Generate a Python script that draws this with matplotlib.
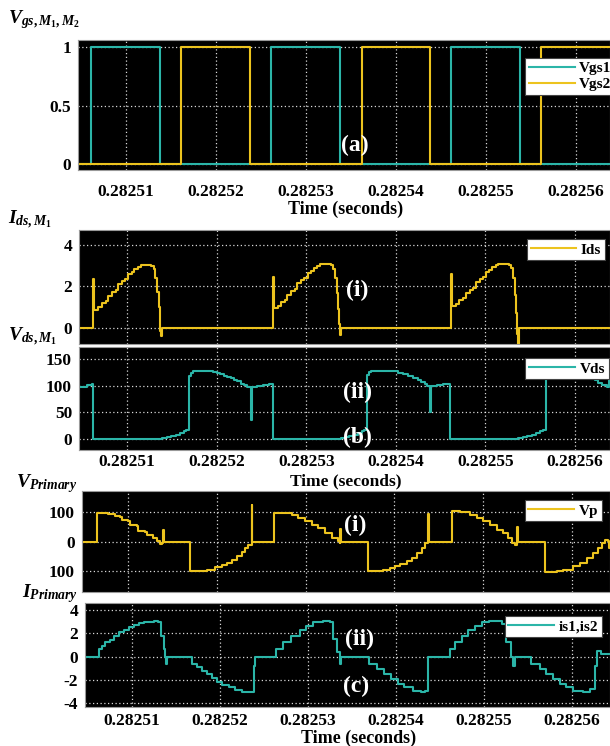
import numpy as np
import matplotlib
matplotlib.use('Agg')
import matplotlib.pyplot as plt

plt.rcParams['font.family'] = 'Liberation Serif'
plt.rcParams['font.weight'] = 'bold'
plt.rcParams['mathtext.fontset'] = 'custom'
plt.rcParams['mathtext.it'] = 'Liberation Serif:italic:bold'
plt.rcParams['mathtext.rm'] = 'Liberation Serif:bold'
plt.rcParams['mathtext.bf'] = 'Liberation Serif:bold'

T0 = 0.2825  # s, times below are microseconds after T0
TEAL = '#2bb5a8'
YELLOW = '#ecc31e'

tick_us = [10, 20, 30, 40, 50, 60]
tick_labels = ['0.28251', '0.28252', '0.28253', '0.28254', '0.28255', '0.28256']

# (a) gate signals
vgs1_t = [4.67, 6.1, 6.1, 13.8, 13.8, 26.1, 26.1, 33.8, 33.8, 46.1, 46.1, 53.8, 53.8, 63.8]
vgs1_v = [0, 0, 1, 1, 0, 0, 1, 1, 0, 0, 1, 1, 0, 0]
vgs2_t = [4.67, 16.1, 16.1, 23.8, 23.8, 36.2, 36.2, 43.8, 43.8, 56.1, 56.1, 63.8]
vgs2_v = [0, 0, 1, 1, 0, 0, 1, 1, 0, 0, 1, 1]

# (b) drain current and drain-source voltage of M1
ids_t = [4.62, 6.22, 6.32, 6.75, 7.15, 7.6, 7.85, 8.3, 8.7, 8.95, 9.4, 9.75, 10.1, 10.5, 10.8,
         11.2, 11.5, 12.7, 12.95, 13.15, 13.35, 13.5, 13.62, 13.72, 13.82, 13.92,
         26.29, 26.39, 26.8, 27.2, 27.65, 27.9, 28.35, 28.75, 29.0, 29.45, 29.8, 30.15, 30.55,
         30.85, 31.25, 31.55, 32.75, 33.0, 33.2, 33.4, 33.55, 33.65, 33.75, 33.88,
         46.21, 46.31, 46.7, 47.1, 47.55, 47.8, 48.25, 48.65, 48.9, 49.35, 49.7, 50.05, 50.45,
         50.75, 51.15, 51.45, 52.65, 52.9, 53.1, 53.3, 53.45, 53.58, 53.62, 53.72, 63.92]
ids_v = [0, 2.36, 0.88, 1.0, 1.2, 1.3, 1.55, 1.75, 1.85, 2.1, 2.25, 2.35, 2.6, 2.7, 2.85,
         2.95, 3.02, 2.98, 2.85, 2.4, 1.75, 1.0, 0.3, -0.15, -0.38, 0,
         2.47, 0.95, 1.05, 1.25, 1.35, 1.6, 1.8, 1.9, 2.15, 2.3, 2.4, 2.65, 2.75,
         2.9, 3.0, 3.07, 3.02, 2.85, 2.4, 1.7, 0.9, 0.2, -0.34, 0,
         2.59, 1.07, 1.15, 1.35, 1.45, 1.7, 1.85, 1.95, 2.2, 2.35, 2.45, 2.7, 2.8,
         2.95, 3.02, 3.08, 3.05, 2.9, 2.4, 1.6, 0.7, -0.3, -0.9, 0, 0]

vds_t = [4.62, 5.5, 6.04, 6.22, 13.89, 14.4, 14.9, 15.4, 15.9, 16.3, 16.6, 16.9, 17.1, 17.3,
         18.2, 19.6, 20.0, 20.4, 20.8, 21.2, 21.55, 21.9, 22.3, 22.7, 23.05, 23.4, 23.85, 23.92,
         24.5, 25.2, 25.8, 26.26,
         33.85, 34.3, 34.8, 35.3, 35.8, 36.2, 36.5, 36.83, 37.0, 37.2, 39.5, 40.24, 40.8, 41.36,
         41.9, 42.48, 42.85, 43.22, 43.5, 43.85, 43.92, 44.6, 45.3, 45.84, 46.1,
         53.69, 54.2, 54.7, 55.2, 55.7, 56.1, 56.45, 56.75, 56.9, 57.1, 59.4, 60.41, 60.8, 61.15,
         61.7, 62.27, 62.6, 63.02, 63.59, 63.8, 63.92]
vds_v = [98, 102, 103, 0, 1, 3, 5, 8, 11, 15, 17, 119, 124, 127,
         128, 126, 124, 121, 119, 116, 114, 110, 108, 104, 102, 98, 36, 98,
         100, 102, 104, 0,
         1, 3, 5, 8, 11, 15, 17, 120, 125, 128, 127, 124, 121, 118,
         114, 110, 107, 104, 100, 51, 99, 101, 103, 104, 0,
         1, 3, 5, 8, 11, 15, 17, 121, 125, 128, 127, 123, 119, 116,
         113, 110, 105, 101, 98, 114, 114]

# (c) primary voltage and current
vp_t = [4.78, 6.44, 7.37, 7.75, 8.5, 9.06, 9.26, 10.0, 10.19, 10.95, 11.13, 11.88, 12.07, 12.82,
        13.2, 13.57, 13.83, 13.95, 14.0, 16.96, 17.89, 18.84, 19.77, 20.53, 21.09, 21.66, 22.22,
        22.78, 23.16, 23.53, 23.91, 23.98, 26.43, 27.47, 28.42, 29.17, 29.92, 30.68, 31.42, 32.18,
        32.93, 33.68, 33.87, 33.9, 33.96, 37.06, 38.0, 38.75, 39.5, 40.07, 40.63, 41.39, 41.95,
        42.51, 43.08, 43.45, 43.82, 43.9, 46.46, 47.4, 48.52, 49.28, 50.02, 50.78, 51.53, 52.28,
        52.84, 53.22, 53.6, 53.79, 53.86, 53.92, 56.99, 58.3, 59.04, 60.17, 60.92, 61.68, 62.42,
        62.99, 63.37, 63.74, 64.11, 64.2, 64.32]
vp_v = [0, 98, 97, 95, 87, 83, 75, 70, 58, 53, 38, 35, 24, 13,
        1, -8, -4, 41, 0, -101, -100, -96, -88, -81, -73, -62, -50,
        -35, -22, -10, 127, 0, 98, 99, 92, 81, 72, 58, 47, 30,
        13, 1, -4, 45, 0, -101, -100, -98, -91, -84, -76, -67, -56,
        -39, -22, -4, 95, 0, 104, 101, 90, 81, 70, 56, 41, 30,
        13, -4, -10, -5, 49, 0, -104, -100, -96, -84, -73, -56, -39,
        -22, -4, 7, 4, -22, -22]

ip_t = [4.65, 6.2, 6.59, 6.96, 7.54, 7.93, 8.51, 9.08, 9.66, 10.23, 10.81, 11.39, 12.54, 13.0,
        13.31, 13.62, 13.77, 13.88, 14.0, 16.77, 17.35, 17.92, 18.5, 19.08, 19.65, 20.23, 20.99,
        21.76, 22.54, 23.3, 23.69, 23.88, 23.96, 26.38, 27.14, 28.1, 29.07, 29.84, 30.6, 31.75,
        32.53, 32.91, 33.3, 33.61, 33.75, 36.95, 37.91, 38.68, 39.44, 40.22, 40.98, 41.95, 42.9,
        43.29, 43.67, 46.18, 46.75, 47.52, 48.28, 49.06, 49.82, 50.59, 51.75, 52.05, 52.51, 53.08,
        53.36, 53.58, 55.39, 56.36, 57.12, 57.9, 58.66, 59.43, 60.19, 61.35, 62.11, 62.7, 62.89,
        63.4, 64.38]
ip_v = [0, 0.65, 0.93, 1.22, 1.45, 1.8, 2.09, 2.31, 2.52, 2.72, 2.89, 3.0, 3.09, 3.0,
        1.8, 0.65, 0, -0.65, 0, -0.65, -0.93, -1.22, -1.51, -1.88, -2.17, -2.46, -2.66,
        -2.86, -3.03, -3.09, -3.03, -0.79, 0, 0.65, 1.22, 1.8, 2.24, 2.6, 2.95, 3.09,
        2.95, 1.5, 0.36, -0.65, 0, -0.65, -1.08, -1.51, -1.94, -2.37, -2.66, -2.95, -3.03,
        -2.95, 0, 0.65, 1.22, 1.8, 2.24, 2.6, 2.95, 3.09, 3.09, 2.8, 1.22, 0,
        -0.8, 0, -0.65, -1.08, -1.51, -1.94, -2.37, -2.66, -2.95, -3.09, -2.8, -0.8, 0.5,
        0.2, 0.2]

W, H = 610, 746
fig = plt.figure(figsize=(W / 100, H / 100), dpi=100)


def us(t):
    return T0 + np.asarray(t) * 1e-6


def add_ax(left, top, right, bottom):
    return fig.add_axes([left / W, 1 - bottom / H, (right - left) / W, (bottom - top) / H])


def fig_text(x, y, s, **kw):
    fig.text(x / W, 1 - y / H, s, **kw)


def style(ax, xlim, ylim, yticks, ylabels, xlabels, xpad=5):
    ax.set_facecolor('black')
    ax.set_xlim(us(xlim[0]), us(xlim[1]))
    ax.set_ylim(*ylim)
    ax.set_xticks(us(tick_us))
    ax.set_xticklabels(tick_labels if xlabels else [])
    ax.set_yticks(yticks)
    ax.set_yticklabels(ylabels)
    ax.tick_params(axis='both', length=0, labelsize=12.5, pad=5)
    ax.tick_params(axis='x', pad=xpad)
    ax.grid(True, color='white', linestyle=(0, (1, 2)), linewidth=0.9, alpha=0.85)
    for s in ax.spines.values():
        s.set_color('#999999')
        s.set_linewidth(0.8)


def legend(ax, anchor):
    leg = ax.legend(loc='upper right', bbox_to_anchor=anchor, borderaxespad=0,
                    fancybox=False, framealpha=1, edgecolor='#444444', fontsize=11,
                    handlelength=3.0, handletextpad=0.3, borderpad=0.25, labelspacing=0.15)
    leg.get_frame().set_linewidth(0.8)
    for txt in leg.get_texts():
        txt.set_fontweight('bold')


# panel (a)
ax_a = add_ax(78, 40, 610, 170)
ax_a.plot(us(vgs1_t), vgs1_v, color=TEAL, lw=1.5, label='Vgs1')
ax_a.plot(us(vgs2_t), vgs2_v, color=YELLOW, lw=1.5, label='Vgs2')
style(ax_a, (4.67, 63.8), (-0.05, 1.06), [0, 0.5, 1], ['0', '0.5', '1'], True, xpad=10)
legend(ax_a, (1.01, 0.862))
fig_text(355, 145, '(a)', color='white', fontsize=17, fontweight='bold', ha='center', va='center')

# panel (b)
ax_i = add_ax(79, 230, 610, 344)
ax_i.plot(us(ids_t), ids_v, color=YELLOW, lw=1.5, drawstyle='steps-post', label='Ids')
style(ax_i, (4.62, 63.92), (-0.77, 4.72), [0, 2, 4], ['0', '2', '4'], False)
legend(ax_i, (0.991, 0.921))
fig_text(357, 290, '(i)', color='white', fontsize=17, fontweight='bold', ha='center', va='center')

ax_v = add_ax(79, 347, 610, 450)
ax_v.plot(us(vds_t), vds_v, color=TEAL, lw=1.5, drawstyle='steps-post', label='Vds')
style(ax_v, (4.62, 63.92), (-20.6, 172.5), [0, 50, 100, 150], ['0', '50', '100', '150'], True,
      xpad=3)
legend(ax_v, (0.998, 0.893))
fig_text(357, 392, '(ii)', color='white', fontsize=17, fontweight='bold', ha='center', va='center')
fig_text(357, 437, '(b)', color='white', fontsize=17, fontweight='bold', ha='center', va='center')

# panel (c)
ax_p = add_ax(82, 491, 610, 592)
ax_p.plot(us(vp_t), vp_v, color=YELLOW, lw=1.5, drawstyle='steps-post', label='Vp')
style(ax_p, (4.78, 64.32), (-171.8, 173.5), [-100, 0, 100], ['100', '0', '100'], False)
legend(ax_p, (0.985, 0.911))
fig_text(355, 525, '(i)', color='white', fontsize=17, fontweight='bold', ha='center', va='center')

ax_c = add_ax(85, 603, 610, 707)
ax_c.plot(us(ip_t), ip_v, color=TEAL, lw=1.5, drawstyle='steps-post', label='is1,is2')
style(ax_c, (4.65, 64.38), (-4.34, 4.6), [-4, -2, 0, 2, 4], ['-4', '-2', '0', '2', '4'], True,
      xpad=4)
legend(ax_c, (0.985, 0.875))
fig_text(359, 639, '(ii)', color='white', fontsize=17, fontweight='bold', ha='center', va='center')
fig_text(356, 686, '(c)', color='white', fontsize=17, fontweight='bold', ha='center', va='center')

# axis titles
fig_text(346, 209, 'Time (seconds)', fontsize=13, fontweight='bold', ha='center', va='center')
fig_text(346, 481, 'Time (seconds)', fontsize=12.5, fontweight='bold', ha='center', va='center')
fig_text(359, 738, 'Time (seconds)', fontsize=13, fontweight='bold', ha='center', va='center')

fig_text(8, 20, r'$V_{gs,M_1,M_2}$', fontsize=14, ha='left', va='center')
fig_text(8, 220, r'$I_{ds,M_1}$', fontsize=14, ha='left', va='center')
fig_text(8, 337, r'$V_{ds,M_1}$', fontsize=14, ha='left', va='center')
fig_text(16, 484, r'$V_{Primary}$', fontsize=14, ha='left', va='center')
fig_text(22, 594, r'$I_{Primary}$', fontsize=14, ha='left', va='center')

fig.savefig('out.png', dpi=100, facecolor='white')
